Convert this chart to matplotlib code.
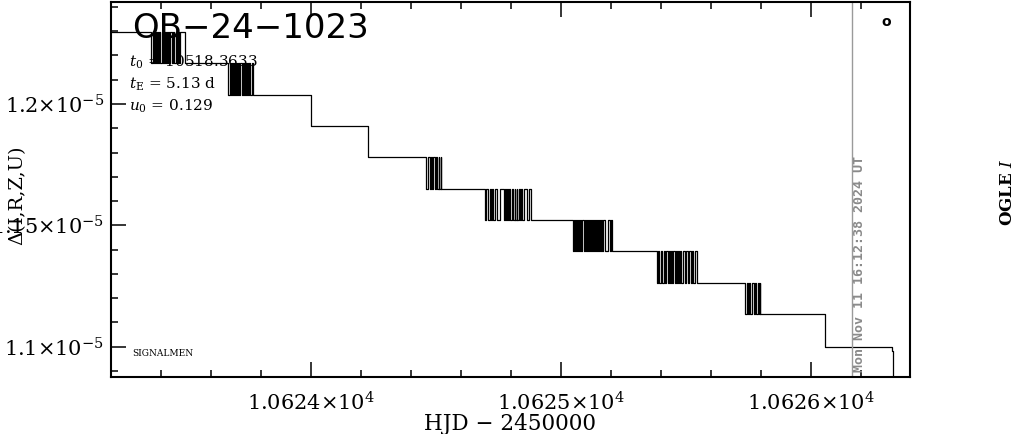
import matplotlib
matplotlib.use("Agg")
import matplotlib.pyplot as plt
from matplotlib.ticker import FixedLocator, MultipleLocator

# plateau levels of the difference curve, top to bottom
levels = [1.2297e-5, 1.2169e-5, 1.2037e-5, 1.1909e-5, 1.1781e-5, 1.1650e-5,
          1.1522e-5, 1.1394e-5, 1.1262e-5, 1.1134e-5, 1.1000e-5]

# times (HJD - 2450000) where the curve toggles between two neighbouring plateaus
flips = [
    [10623.360, 10623.366, 10623.370, 10623.376, 10623.380, 10623.384, 10623.388,
     10623.392, 10623.396, 10623.402, 10623.408, 10623.412, 10623.416, 10623.420,
     10623.424, 10623.428, 10623.432, 10623.436, 10623.444, 10623.448, 10623.454,
     10623.460, 10623.464, 10623.468, 10623.472, 10623.476, 10623.496],
    [10623.668, 10623.674, 10623.678, 10623.684, 10623.688, 10623.692, 10623.696,
     10623.700, 10623.704, 10623.708, 10623.712, 10623.716, 10623.724, 10623.728,
     10623.732, 10623.736, 10623.740, 10623.744, 10623.748, 10623.752, 10623.756,
     10623.762, 10623.768],
    [10624.000],
    [10624.228],
    [10624.460, 10624.466, 10624.476, 10624.480, 10624.484, 10624.488, 10624.496,
     10624.500, 10624.504, 10624.510, 10624.514, 10624.518, 10624.520],
    [10624.696, 10624.700, 10624.706, 10624.716, 10624.720, 10624.724, 10624.730,
     10624.736, 10624.744, 10624.754, 10624.772, 10624.776, 10624.780, 10624.784,
     10624.788, 10624.792, 10624.796, 10624.804, 10624.810, 10624.814, 10624.818,
     10624.822, 10624.826, 10624.830, 10624.834, 10624.840, 10624.846, 10624.852,
     10624.864, 10624.870, 10624.880],
    [10625.048, 10625.052, 10625.056, 10625.060, 10625.064, 10625.068, 10625.072,
     10625.076, 10625.080, 10625.084, 10625.090, 10625.096, 10625.100, 10625.104,
     10625.108, 10625.112, 10625.116, 10625.120, 10625.124, 10625.128, 10625.132,
     10625.136, 10625.140, 10625.144, 10625.148, 10625.152, 10625.156, 10625.160,
     10625.164, 10625.168, 10625.176, 10625.188, 10625.196, 10625.200, 10625.204],
    [10625.384, 10625.388, 10625.392, 10625.400, 10625.404, 10625.410, 10625.416,
     10625.420, 10625.428, 10625.432, 10625.436, 10625.440, 10625.444, 10625.448,
     10625.456, 10625.460, 10625.464, 10625.468, 10625.472, 10625.476, 10625.480,
     10625.488, 10625.494, 10625.500, 10625.508, 10625.512, 10625.518, 10625.522,
     10625.528, 10625.536, 10625.544],
    [10625.736, 10625.742, 10625.748, 10625.752, 10625.756, 10625.766, 10625.770,
     10625.776, 10625.782, 10625.786, 10625.790, 10625.794, 10625.796],
    [10626.056],
]

start_hjd = 10623.15
tail_hjd = [10626.3228, 10626.3292]
tail_flux = [1.0982e-5, 1.0500e-5]

now_hjd = 10626.162
now_label = "Mon Nov 11 16:12:38 2024 UT"

x_ticks = [10624, 10625, 10626]
x_tick_labels = [r"$1.0624{\times}10^{4}$", r"$1.0625{\times}10^{4}$", r"$1.0626{\times}10^{4}$"]
y_ticks = [1.10e-5, 1.15e-5, 1.20e-5]
y_tick_labels = [r"$1.1{\times}10^{-5}$", r"$1.15{\times}10^{-5}$", r"$1.2{\times}10^{-5}$"]

event = "OB\u221224\u22121023"
params = [r"$t_0$ = 10518.3633", r"$t_{\rm E}$ = 5.13 d", r"$u_0$ = 0.129"]

plt.rcParams["mathtext.fontset"] = "dejavuserif"
plt.rcParams["font.family"] = "DejaVu Serif"

W, H = 1014, 434
fig = plt.figure(figsize=(W / 100, H / 100), dpi=100)
ax = fig.add_axes([111 / W, 1 - 377 / H, 799 / W, 375.5 / H])

# build the step curve from the plateau levels and toggle times
hjd = [start_hjd]
flux = [levels[0]]
for k, times in enumerate(flips):
    upper, lower = levels[k], levels[k + 1]
    cur = upper
    for t in times:
        cur = lower if cur == upper else upper
        hjd.append(t)
        flux.append(cur)
    if cur != lower:
        hjd.append(times[-1])
        flux.append(lower)
hjd += tail_hjd
flux += tail_flux

ax.plot(hjd, flux, drawstyle="steps-post", color="black", lw=0.9)
ax.axvline(now_hjd, color="#9a9a9a", lw=1.0)
ax.text(now_hjd + 0.006, 1.0896e-5, now_label, rotation=90, ha="left", va="bottom",
        color="#8a8a8a", fontsize=9.6, family="DejaVu Sans Mono", fontweight="bold")

ax.set_xlim(10623.2, 10626.396)
ax.set_ylim(1.08751e-5, 1.24225e-5)

ax.xaxis.set_major_locator(FixedLocator(x_ticks))
ax.set_xticklabels(x_tick_labels)
ax.xaxis.set_minor_locator(MultipleLocator(0.2))
ax.yaxis.set_major_locator(FixedLocator(y_ticks))
ax.set_yticklabels(y_tick_labels)
ax.yaxis.set_minor_locator(MultipleLocator(1e-7))

ax.tick_params(which="both", direction="in", top=True, right=False, width=1.1)
ax.tick_params(which="major", length=10.8, labelsize=15)
ax.tick_params(which="minor", length=5)
ax.tick_params(axis="x", which="major", pad=10)
ax.tick_params(axis="y", which="major", pad=5)
for s in ax.spines.values():
    s.set_linewidth(1.5)

ax.set_xlabel("HJD \u2212 2450000", fontsize=15.5, labelpad=-1)

fig.text(17 / W, 1 - 195 / H, "\u0394(I,R,Z,U)", rotation=90, ha="center", va="center",
         fontsize=14)
fig.text(1007 / W, 1 - 192 / H, r"OGLE $\mathbf{\mathit{I}}$", rotation=90, ha="center",
         va="center", fontsize=12, fontweight="bold")

fig.text(132 / W, 1 - 29 / H, event, ha="left", va="center", fontsize=24.5,
         family="DejaVu Sans")
for i, txt in enumerate(params):
    fig.text(129 / W, 1 - (62 + 22 * i) / H, txt, ha="left", va="center", fontsize=11)
fig.text(132 / W, 1 - 354 / H, "SIGNALMEN", ha="left", va="center", fontsize=6.5)
fig.text(886 / W, 1 - 22 / H, "o", ha="center", va="center", fontsize=10,
         fontweight="bold", family="DejaVu Sans")

fig.savefig("out.png", dpi=100)
